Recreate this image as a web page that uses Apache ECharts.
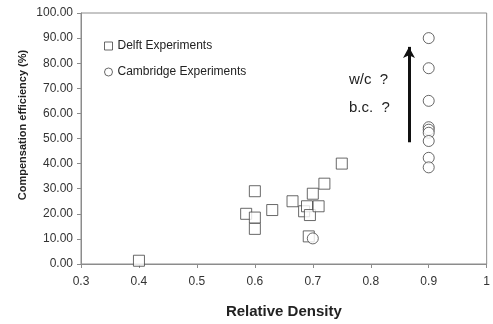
<!DOCTYPE html>
<html>
<head>
<meta charset="utf-8">
<script src="https://cdn.jsdelivr.net/npm/echarts@6/dist/echarts.min.js"></script>
<style>
  html, body { margin: 0; padding: 0; background: #fff; }
  #chart { width: 493px; height: 324px; }
</style>
</head>
<body>
<div id="chart"></div>
<script>
// Delft experiments: [relative density, compensation efficiency %]
const delftPoints = [
  [0.4, 1.3],
  [0.585, 20], [0.6, 29], [0.6, 18.5], [0.6, 14],
  [0.63, 21.5], [0.665, 25], [0.685, 21], [0.69, 23],
  [0.695, 19.5], [0.7, 28], [0.71, 23], [0.72, 32],
  [0.75, 40], [0.693, 11]
];
// Cambridge experiments
const cambridgePoints = [
  [0.9, 90], [0.9, 78], [0.9, 65], [0.9, 54.5], [0.9, 53.5],
  [0.9, 52.3], [0.9, 49], [0.9, 42.3], [0.9, 38.5], [0.7, 10.2]
];
// trend arrow (data coords)
const arrowFrom = [0.866, 48.5];
const arrowTo = [0.866, 86.5];

const xTicks = { min: 0.3, max: 1, interval: 0.1 };
const yTicks = { min: 0, max: 100, interval: 10 };

const chart = echarts.init(document.getElementById("chart"));
const font = "Liberation Sans, Arial, sans-serif";

chart.setOption({
  animation: false,
  backgroundColor: "#fff",
  textStyle: { fontFamily: font },
  grid: {
    left: 81, right: 4, top: 13, bottom: 59,
    show: true, borderColor: "#8c8c8c", borderWidth: 1
  },
  legend: {
    orient: "vertical",
    left: 99, top: 35,
    itemWidth: 8, itemHeight: 8,
    itemGap: 14,
    itemStyle: { borderWidth: 1, borderColor: "#444", color: "#fff" },
    textStyle: { fontFamily: font, fontSize: 12, color: "#222" },
    data: [
      { name: "Delft Experiments", icon: "rect" },
      { name: "Cambridge Experiments", icon: "circle" }
    ]
  },
  xAxis: {
    type: "value",
    min: xTicks.min, max: xTicks.max, interval: xTicks.interval,
    name: "Relative Density",
    nameLocation: "middle",
    nameGap: 40,
    nameTextStyle: { fontFamily: font, fontSize: 15, fontWeight: "bold", color: "#222" },
    axisLine: { show: true, lineStyle: { color: "#8c8c8c" } },
    axisTick: { show: true, length: 4, lineStyle: { color: "#8c8c8c" } },
    splitLine: { show: false },
    axisLabel: {
      fontFamily: font, fontSize: 12, color: "#333", margin: 12,
      formatter: (v) => String(Math.round(v * 10) / 10)
    }
  },
  yAxis: {
    type: "value",
    min: yTicks.min, max: yTicks.max, interval: yTicks.interval,
    axisLine: { show: true, lineStyle: { color: "#8c8c8c" } },
    axisTick: { show: true, length: 4, lineStyle: { color: "#8c8c8c" } },
    splitLine: { show: false },
    axisLabel: {
      fontFamily: font, fontSize: 12, color: "#333", margin: 8,
      formatter: (v) => v.toFixed(2)
    }
  },
  graphic: [
    {
      type: "text", x: 23, y: 125, rotation: Math.PI / 2,
      style: {
        text: "Compensation efficiency (%)",
        font: "bold 11px " + font, fill: "#222",
        align: "center", verticalAlign: "middle"
      }
    },
    {
      type: "text", x: 349, y: 80,
      style: { text: "w/c  ?", font: "15px " + font, fill: "#222", verticalAlign: "middle" }
    },
    {
      type: "text", x: 349, y: 108,
      style: { text: "b.c.  ?", font: "15px " + font, fill: "#222", verticalAlign: "middle" }
    }
  ],
  series: [
    {
      name: "Delft Experiments",
      type: "scatter",
      symbol: "rect",
      symbolSize: 11,
      itemStyle: { color: "#fff", borderColor: "#444", borderWidth: 1 },
      data: delftPoints
    },
    {
      name: "Cambridge Experiments",
      type: "scatter",
      symbol: "circle",
      symbolSize: 11,
      itemStyle: { color: "#fff", borderColor: "#444", borderWidth: 1 },
      data: cambridgePoints,
      markLine: {
        silent: true,
        symbol: ["none", "arrow"],
        symbolSize: [9, 11],
        label: { show: false },
        lineStyle: { color: "#111", width: 3, type: "solid" },
        data: [[{ coord: arrowFrom }, { coord: arrowTo }]]
      }
    }
  ]
});
</script>
</body>
</html>
